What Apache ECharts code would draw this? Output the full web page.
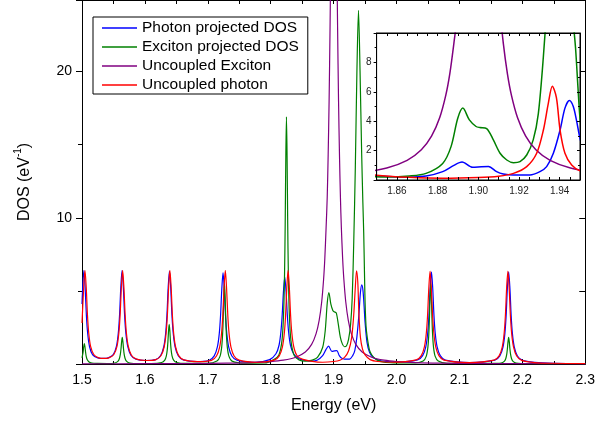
<!DOCTYPE html>
<html><head><meta charset="utf-8">
<script src="https://cdn.jsdelivr.net/npm/echarts@6/dist/echarts.min.js"></script>
<style>html,body{margin:0;padding:0;background:#fff}#c{width:598px;height:423px}</style>
</head><body><div id="c"></div>
<script>
// ---- data: [energy (eV), DOS (eV^-1)] ----
const photonProjected = [[1.500,4.1],[1.501,5.15],[1.503,6.4],[1.505,5.2],[1.507,3.3],[1.509,2.1],[1.512,1.18],[1.517,0.62],[1.525,0.42],[1.534,0.38],[1.5417,0.42],[1.5497,0.64],[1.5547,1.2],[1.5577,2.12],[1.5597,3.35],[1.5617,5.25],[1.5637,6.4],[1.5657,5.25],[1.5677,3.35],[1.5697,2.12],[1.5727,1.2],[1.5777,0.6],[1.5857,0.33],[1.601,0.24],[1.617,0.3],[1.625,0.58],[1.630,1.18],[1.633,2.1],[1.635,3.33],[1.637,5.23],[1.639,6.35],[1.641,5.23],[1.643,3.33],[1.645,2.1],[1.648,1.18],[1.653,0.57],[1.661,0.28],[1.682,0.16],[1.7022,0.26],[1.7102,0.56],[1.7152,1.17],[1.7182,2.08],[1.7202,3.28],[1.7222,5.1],[1.7242,6.25],[1.7262,5.1],[1.7282,3.28],[1.7302,2.08],[1.7332,1.16],[1.7382,0.55],[1.7462,0.26],[1.775,0.12],[1.7983,0.3],[1.8083,0.7],[1.8133,1.3],[1.8163,2.25],[1.8183,3.4],[1.8203,5.0],[1.8223,5.95],[1.8243,5.0],[1.8263,3.4],[1.8283,2.25],[1.8313,1.3],[1.8363,0.7],[1.845,0.36],[1.855,0.24],[1.866,0.19],[1.8743,0.27],[1.8825,0.57],[1.888,1.0],[1.892,1.22],[1.8972,0.86],[1.9015,0.9],[1.905,0.92],[1.909,0.57],[1.9123,0.41],[1.9173,0.34],[1.9254,0.34],[1.9303,0.57],[1.9336,0.91],[1.9369,1.82],[1.9402,3.4],[1.9426,4.89],[1.9448,5.41],[1.9467,5.0],[1.9484,3.97],[1.950,2.84],[1.953,1.5],[1.957,0.8],[1.963,0.45],[1.975,0.22],[2.000,0.14],[2.0335,0.28],[2.0415,0.57],[2.0465,1.17],[2.0495,2.1],[2.0515,3.32],[2.0535,5.2],[2.0555,6.3],[2.0575,5.2],[2.0595,3.32],[2.0615,2.1],[2.0645,1.17],[2.0695,0.57],[2.0775,0.27],[2.117,0.1],[2.1562,0.27],[2.1642,0.56],[2.1692,1.16],[2.1722,2.08],[2.1742,3.3],[2.1762,5.2],[2.1782,6.3],[2.1802,5.2],[2.1822,3.3],[2.1842,2.08],[2.1872,1.16],[2.1922,0.55],[2.2002,0.25],[2.22,0.11],[2.25,0.05],[2.3,0.03]];

const excitonProjected = [[1.500,0.42],[1.5017,0.8],[1.5027,1.18],[1.5037,1.4],[1.5047,1.18],[1.5057,0.8],[1.5067,0.52],[1.5082,0.3],[1.5107,0.16],[1.5157,0.07],[1.525,0.04],[1.54,0.03],[1.552,0.07],[1.557,0.18],[1.5595,0.38],[1.561,0.67],[1.562,1.04],[1.563,1.53],[1.564,1.82],[1.565,1.53],[1.566,1.04],[1.567,0.67],[1.5685,0.38],[1.571,0.18],[1.576,0.07],[1.59,0.03],[1.61,0.03],[1.6266,0.1],[1.6316,0.27],[1.6341,0.56],[1.6356,1.0],[1.6366,1.55],[1.6376,2.29],[1.6386,2.72],[1.6396,2.29],[1.6406,1.55],[1.6416,1.0],[1.6431,0.56],[1.6456,0.27],[1.6506,0.1],[1.665,0.04],[1.70,0.04],[1.7145,0.2],[1.7195,0.54],[1.722,1.14],[1.7235,2.03],[1.7245,3.13],[1.7255,4.63],[1.7265,5.5],[1.7275,4.63],[1.7285,3.13],[1.7295,2.03],[1.731,1.14],[1.7335,0.54],[1.7385,0.2],[1.76,0.06],[1.79,0.07],[1.805,0.3],[1.813,0.62],[1.818,1.65],[1.8205,3.5],[1.822,6.25],[1.823,9.6],[1.824,14.2],[1.825,16.9],[1.826,14.2],[1.827,9.6],[1.828,6.25],[1.8295,3.5],[1.832,1.65],[1.837,0.62],[1.845,0.28],[1.855,0.2],[1.8661,0.27],[1.8743,0.45],[1.8825,1.13],[1.8866,2.27],[1.8899,4.2],[1.8924,4.89],[1.8956,4.09],[1.8989,3.64],[1.9008,3.57],[1.9041,3.5],[1.9074,2.73],[1.9107,1.82],[1.914,1.36],[1.9173,1.18],[1.9205,1.25],[1.9238,1.7],[1.927,2.73],[1.9295,4.5],[1.932,8.4],[1.9345,13.5],[1.937,20.0],[1.9395,24.2],[1.942,20.0],[1.9445,14.5],[1.9465,11.0],[1.9478,9.0],[1.949,6.3],[1.950,4.2],[1.9515,2.6],[1.9535,1.8],[1.957,0.95],[1.961,0.6],[1.968,0.3],[1.98,0.12],[2.00,0.08],[2.03,0.07],[2.0423,0.2],[2.0473,0.54],[2.0498,1.14],[2.0513,2.03],[2.0523,3.13],[2.0533,4.63],[2.0543,5.5],[2.0553,4.63],[2.0563,3.13],[2.0573,2.03],[2.0588,1.14],[2.0613,0.54],[2.0663,0.2],[2.08,0.05],[2.15,0.04],[2.1662,0.07],[2.1712,0.18],[2.1737,0.38],[2.1752,0.67],[2.1762,1.04],[2.1772,1.53],[2.1782,1.82],[2.1792,1.53],[2.1802,1.04],[2.1812,0.67],[2.1827,0.38],[2.1852,0.18],[2.1902,0.07],[2.21,0.03],[2.3,0.02]];

const uncoupledExciton = [[1.50,0.01],[1.60,0.019],[1.68,0.035],[1.73,0.059],[1.77,0.1],[1.80,0.169],[1.82,0.263],[1.84,0.465],[1.855,0.82],[1.865,1.34],[1.872,2.06],[1.877,2.99],[1.881,4.24],[1.884,5.76],[1.886,7.24],[1.888,9.3],[1.8898,11.4],[1.8913,14.3],[1.8928,18.0],[1.8943,23.0],[1.8953,27.0],[1.8963,31.6],[1.8973,36.3],[1.8983,40.7],[1.9003,45.0],[1.9023,40.7],[1.9033,36.3],[1.9043,31.6],[1.9053,27.0],[1.9063,23.0],[1.9078,18.0],[1.9093,14.3],[1.9108,11.4],[1.9123,9.3],[1.9143,7.24],[1.9163,5.76],[1.9193,4.24],[1.9233,2.99],[1.9283,2.06],[1.9353,1.34],[1.9453,0.82],[1.9603,0.465],[1.9803,0.263],[2.0003,0.169],[2.03,0.1],[2.07,0.059],[2.12,0.035],[2.20,0.019],[2.30,0.011]];

const uncoupledPhoton = [[1.500,2.8],[1.5027,5.25],[1.5047,6.4],[1.5067,5.25],[1.5087,3.35],[1.5107,2.12],[1.5137,1.2],[1.5187,0.65],[1.5267,0.42],[1.535,0.38],[1.5426,0.42],[1.5506,0.65],[1.5556,1.2],[1.5586,2.12],[1.5606,3.35],[1.5626,5.25],[1.5646,6.4],[1.5666,5.25],[1.5686,3.35],[1.5706,2.12],[1.5736,1.2],[1.5786,0.6],[1.5866,0.33],[1.602,0.24],[1.6177,0.3],[1.6257,0.58],[1.6307,1.18],[1.6337,2.1],[1.6357,3.33],[1.6377,5.23],[1.6397,6.4],[1.6417,5.23],[1.6437,3.33],[1.6457,2.1],[1.6487,1.18],[1.6537,0.57],[1.6617,0.28],[1.684,0.16],[1.7058,0.25],[1.7138,0.55],[1.7188,1.16],[1.7218,2.08],[1.7238,3.3],[1.7258,5.2],[1.7278,6.4],[1.7298,5.2],[1.7318,3.3],[1.7338,2.08],[1.7368,1.16],[1.7418,0.55],[1.7498,0.26],[1.778,0.12],[1.8056,0.27],[1.8136,0.56],[1.8186,1.17],[1.8216,2.1],[1.8236,3.32],[1.8256,5.22],[1.8276,6.4],[1.8296,5.22],[1.8316,3.32],[1.8336,2.1],[1.8366,1.18],[1.8416,0.58],[1.85,0.33],[1.866,0.18],[1.8825,0.12],[1.90,0.17],[1.91,0.26],[1.9173,0.45],[1.9238,0.91],[1.9287,1.82],[1.932,3.4],[1.9344,5.2],[1.9364,6.38],[1.9384,5.6],[1.9402,3.4],[1.9426,1.82],[1.9459,1.02],[1.950,0.62],[1.958,0.3],[1.97,0.17],[1.995,0.12],[2.0313,0.28],[2.0393,0.57],[2.0443,1.17],[2.0473,2.1],[2.0493,3.32],[2.0513,5.2],[2.0533,6.35],[2.0553,5.2],[2.0573,3.32],[2.0593,2.1],[2.0623,1.17],[2.0673,0.57],[2.0753,0.27],[2.115,0.1],[2.155,0.27],[2.163,0.56],[2.168,1.16],[2.171,2.08],[2.173,3.3],[2.175,5.2],[2.177,6.35],[2.179,5.2],[2.181,3.3],[2.183,2.08],[2.186,1.16],[2.191,0.55],[2.199,0.25],[2.22,0.1],[2.25,0.05],[2.3,0.03]];

const seriesNames = ['Photon projected DOS','Exciton projected DOS','Uncoupled Exciton','Uncoupled photon'];
const seriesColors = ['#0000ff','#008000','#800080','#ff0000'];
const seriesData = [photonProjected, excitonProjected, uncoupledExciton, uncoupledPhoton];
const mainYLabels = [10, 20];
const insetXLabels = ['1.86','1.88','1.90','1.92','1.94'];
const insetYLabels = [2, 4, 6, 8];

const F = '"Liberation Sans", Arial, Helvetica, sans-serif';
const chart = echarts.init(document.getElementById('c'), null, {renderer:'canvas'});

const mainSeries = seriesData.map((d,i)=>({
  type:'line', name:seriesNames[i], xAxisIndex:0, yAxisIndex:0, data:d,
  showSymbol:false, symbol:'none', smooth:0.3, clip:true, z:2,
  lineStyle:{color:seriesColors[i], width:1.2}, itemStyle:{color:seriesColors[i]}
}));
const insetSeries = seriesData.map((d,i)=>({
  type:'line', name:seriesNames[i], xAxisIndex:2, yAxisIndex:2, data:d,
  showSymbol:false, symbol:'none', smooth:0.3, clip:true, z:8,
  lineStyle:{color:seriesColors[i], width:1.5}, itemStyle:{color:seriesColors[i]}
}));

const blk = {color:'#000', width:1};
const option = {
  animation:false,
  backgroundColor:'#fff',
  textStyle:{fontFamily:F},
  legend:{
    orient:'vertical', left:93, top:17, padding:[3,9,1,9], itemGap:3,
    itemWidth:35, itemHeight:1.5, icon:'rect',
    borderColor:'#000', borderWidth:1, backgroundColor:'#fff',
    textStyle:{fontSize:15.5, color:'#000', lineHeight:16, fontFamily:F},
    data:seriesNames
  },
  grid:[
    {left:82, right:8, top:-2, bottom:59},
    {left:376.6, width:203.4, top:33, height:147, show:true, backgroundColor:'#fff', borderColor:'#000', borderWidth:1, z:5}
  ],
  xAxis:[
    {gridIndex:0, type:'value', position:'bottom', min:1.5, max:2.3, interval:0.1,
     axisLine:{show:true, onZero:false, lineStyle:blk},
     axisTick:{show:true, inside:true, length:5, lineStyle:blk},
     minorTick:{show:true, splitNumber:2, length:3, lineStyle:blk},
     axisLabel:{fontSize:14, color:'#000', margin:9, fontFamily:F, formatter:v=>v.toFixed(1)},
     splitLine:{show:false},
     name:'Energy (eV)', nameLocation:'middle', nameGap:34,
     nameTextStyle:{fontSize:16, color:'#000', fontFamily:F}},
    {gridIndex:0, type:'value', position:'top', min:1.5, max:2.3, interval:0.05,
     axisLine:{show:true, onZero:false, lineStyle:blk},
     axisTick:{show:true, inside:true, length:4, lineStyle:blk},
     axisLabel:{show:false}, splitLine:{show:false}},
    {gridIndex:1, type:'value', position:'bottom', min:1.85, max:1.95, interval:0.005, z:9,
     axisLine:{show:true, onZero:false, lineStyle:blk},
     axisTick:{show:true, inside:true, length:3, lineStyle:blk},
     axisLabel:{fontSize:10, color:'#222', margin:6, fontFamily:F, formatter:v=>{
        const s=v.toFixed(2); const k=Math.round(v*1000);
        return (k%20===0 && insetXLabels.indexOf(s)>=0)?s:'';}},
     splitLine:{show:false}},
    {gridIndex:1, type:'value', position:'top', min:1.85, max:1.95, interval:0.005, z:9,
     axisLine:{show:true, onZero:false, lineStyle:blk},
     axisTick:{show:true, inside:true, length:3, lineStyle:blk},
     axisLabel:{show:false}, splitLine:{show:false}}
  ],
  yAxis:[
    {gridIndex:0, type:'value', position:'left', min:0, max:24.9, interval:10,
     axisLine:{show:true, onZero:false, lineStyle:blk},
     axisTick:{show:true, inside:false, length:6, lineStyle:blk},
     minorTick:{show:true, splitNumber:2, length:4, lineStyle:blk},
     axisLabel:{fontSize:14, color:'#000', margin:10, fontFamily:F, formatter:v=>mainYLabels.indexOf(v)>=0?String(v):''},
     splitLine:{show:false},
     name:'{a|DOS (eV}{s|-1}{a|)}', nameLocation:'middle', nameGap:49, nameRotate:90,
     nameTextStyle:{color:'#000', fontFamily:F, rich:{
        a:{fontSize:16, color:'#000', fontFamily:F, lineHeight:20, verticalAlign:'bottom'},
        s:{fontSize:10, color:'#000', fontFamily:F, lineHeight:20, verticalAlign:'top'}}}},
    {gridIndex:0, type:'value', position:'right', min:0, max:24.9, interval:5,
     axisLine:{show:true, onZero:false, lineStyle:blk},
     axisTick:{show:true, inside:true, length:6, lineStyle:blk},
     axisLabel:{show:false}, splitLine:{show:false}},
    {gridIndex:1, type:'value', position:'left', min:0, max:10, interval:2, z:9,
     axisLine:{show:true, onZero:false, lineStyle:blk},
     axisTick:{show:true, inside:false, length:3, lineStyle:blk},
     minorTick:{show:true, splitNumber:2, length:2, lineStyle:blk},
     axisLabel:{fontSize:10, color:'#222', margin:5, fontFamily:F, formatter:v=>insetYLabels.indexOf(v)>=0?String(v):''},
     splitLine:{show:false}},
    {gridIndex:1, type:'value', position:'right', min:0, max:10, interval:2, z:9,
     axisLine:{show:true, onZero:false, lineStyle:blk},
     axisTick:{show:true, inside:true, length:3, lineStyle:blk},
     minorTick:{show:true, splitNumber:2, length:2, lineStyle:blk},
     axisLabel:{show:false}, splitLine:{show:false}}
  ],
  series: mainSeries.concat(insetSeries)
};
chart.setOption(option);
</script></body></html>
